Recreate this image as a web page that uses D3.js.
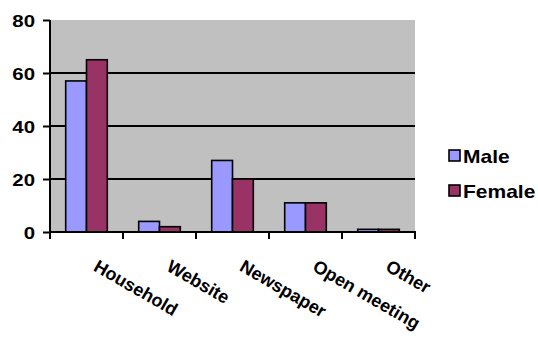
<!DOCTYPE html>
<html>
<head>
<meta charset="utf-8">
<script src="https://cdn.jsdelivr.net/npm/d3@7"></script>
<style>
  html, body { margin: 0; padding: 0; background: #fff; }
  svg { display: block; }
  text { font-family: "Liberation Sans", Arial, sans-serif; font-weight: bold; fill: #000; }
</style>
</head>
<body>
<svg id="chart" width="538" height="339"></svg>
<script>
// Survey responses by information source, split by gender
const categories = ["Household", "Website", "Newspaper", "Open meeting", "Other"];
const seriesNames = ["Male", "Female"];
const maleValues = [57, 4, 27, 11, 1];
const femaleValues = [65, 2, 20, 11, 1];
const yTicks = [0, 20, 40, 60, 80];
const colors = ["#9999FF", "#993366"];

const svg = d3.select("#chart");
const plot = { left: 50, right: 415, top: 20, bottom: 232 };
const stretch = 1.2; // wide lettering for axis numbers and legend

const data = categories.map((c, i) => ({ cat: c, values: [maleValues[i], femaleValues[i]] }));

const x0 = d3.scaleBand()
  .domain(categories)
  .range([plot.left, plot.right])
  .paddingInner(0.43)
  .paddingOuter(0.215);
const x1 = d3.scaleBand()
  .domain(seriesNames)
  .range([0, x0.bandwidth()]);
const y = d3.scaleLinear().domain([0, 80]).range([plot.bottom, plot.top]);

// plot background
svg.append("rect")
  .attr("x", plot.left).attr("y", plot.top)
  .attr("width", plot.right - plot.left).attr("height", plot.bottom - plot.top)
  .attr("fill", "#C0C0C0");

// horizontal gridlines
svg.append("g").selectAll("line")
  .data(yTicks.filter(t => t > 0 && t < 80))
  .join("line")
  .attr("x1", plot.left).attr("x2", plot.right)
  .attr("y1", d => y(d)).attr("y2", d => y(d))
  .attr("stroke", "#000").attr("stroke-width", 2);

// bars
const groups = svg.append("g").selectAll("g")
  .data(data)
  .join("g")
  .attr("transform", d => `translate(${x0(d.cat)},0)`);
groups.selectAll("rect")
  .data(d => d.values.map((v, i) => ({ name: seriesNames[i], v, i })))
  .join("rect")
  .attr("x", d => x1(d.name))
  .attr("y", d => y(d.v))
  .attr("width", x1.bandwidth())
  .attr("height", d => y(0) - y(d.v))
  .attr("fill", d => colors[d.i])
  .attr("stroke", "#000")
  .attr("stroke-width", 1.6);

// y axis
const yAxis = d3.axisLeft(y).tickValues(yTicks).tickSize(7).tickFormat(d3.format("d"));
const gy = svg.append("g").attr("transform", `translate(${plot.left},0)`).call(yAxis);
gy.select(".domain").attr("stroke", "#000").attr("stroke-width", 2).attr("d", `M0,${plot.bottom}V${plot.top}`);
gy.selectAll(".tick line").attr("stroke", "#000").attr("stroke-width", 2);
gy.selectAll(".tick text").remove();
gy.selectAll(".tick").append("g")
  .attr("transform", `translate(-15,0) scale(${stretch},1)`)
  .append("text")
  .attr("text-anchor", "end")
  .attr("dy", "0.36em")
  .style("font-size", "17px")
  .text(d => d);

// x axis: ticks at category boundaries
const gx = svg.append("g");
gx.append("line")
  .attr("x1", plot.left - 1).attr("x2", plot.right + 1)
  .attr("y1", plot.bottom).attr("y2", plot.bottom)
  .attr("stroke", "#000").attr("stroke-width", 2);
const step = x0.step();
gx.selectAll("line.tick")
  .data(d3.range(categories.length + 1))
  .join("line")
  .attr("class", "tick")
  .attr("x1", i => plot.left + i * step).attr("x2", i => plot.left + i * step)
  .attr("y1", plot.bottom).attr("y2", plot.bottom + 7)
  .attr("stroke", "#000").attr("stroke-width", 2);

// rotated category labels
gx.selectAll("g.lab")
  .data(categories)
  .join("g")
  .attr("class", "lab")
  .attr("transform", c => `translate(${x0(c) + x0.bandwidth() / 2 + 6},270) rotate(30)`)
  .append("text")
  .attr("text-anchor", "start")
  .style("font-size", "18px")
  .text(c => c);

// legend
const legend = svg.append("g");
const items = legend.selectAll("g")
  .data(seriesNames)
  .join("g")
  .attr("transform", (d, i) => `translate(449,${150 + i * 35})`);
items.append("rect")
  .attr("width", 11).attr("height", 11)
  .attr("fill", (d, i) => colors[i])
  .attr("stroke", "#000").attr("stroke-width", 1.6);
items.append("g")
  .attr("transform", `translate(14,12.5) scale(${stretch},1)`)
  .append("text")
  .style("font-size", "17.5px")
  .text(d => d);
</script>
</body>
</html>
